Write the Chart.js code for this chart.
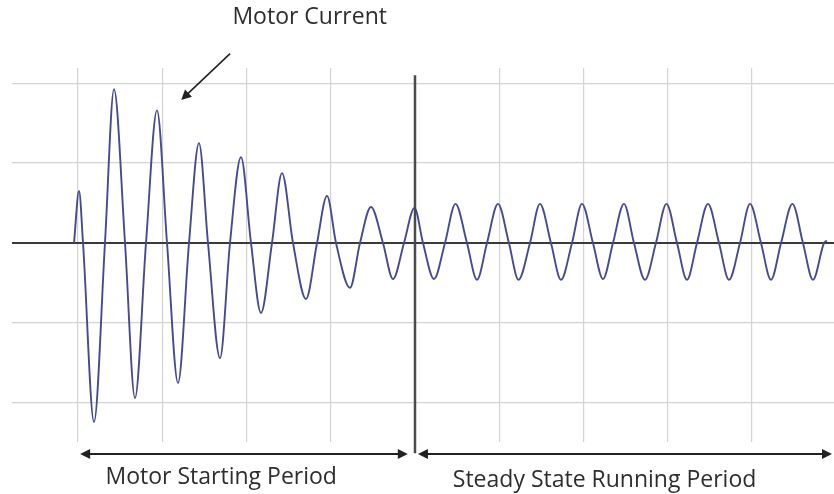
<!DOCTYPE html>
<html>
<head>
<meta charset="utf-8">
<script src="https://cdn.jsdelivr.net/npm/chart.js@4/dist/chart.umd.min.js"></script>
<style>
  html, body { margin: 0; padding: 0; background: #fff; }
  #wrap { width: 834px; height: 494px; }
</style>
</head>
<body>
<div id="wrap"><canvas id="motorChart"></canvas></div>
<script>
// time in mains cycles, current in grid units
const currentX = [
  -0.095, 0.024, 0.119, 0.38, 0.64, 0.855, 1.116, 1.353, 1.614, 1.875,
  2.113, 2.374, 2.635, 2.872, 3.086, 3.371, 3.608, 3.869, 4.107, 4.344,
  4.605, 4.843, 5.104, 5.412, 5.674, 5.911, 6.125, 6.457, 6.694, 6.955,
  7.24, 7.478, 7.739, 7.988, 8.19, 8.451, 8.712, 8.961, 9.234, 9.472,
  9.709, 9.97, 10.23, 10.457, 10.73, 10.967, 11.228, 11.466, 11.727, 11.964,
  12.225, 12.463, 12.7, 12.961, 13.199, 13.46, 13.72, 13.97, 14.22, 14.457,
  14.694, 14.955, 15.217, 15.454, 15.715, 15.953, 16.214, 16.451, 16.69, 16.96,
  17.21, 17.448, 17.71, 17.78
];
const currentY = [
  0, 0.65, 0, -2.24, 0, 1.925, 0, -1.94, 0, 1.66,
  0, -1.75, 0, 1.25, 0, -1.44, 0, 1.075, 0, -0.875,
  0, 0.875, 0, -0.7, 0, 0.59, 0, -0.56, 0, 0.45,
  0, -0.45, 0, 0.44, 0, -0.45, 0, 0.49, 0, -0.46,
  0, 0.49, 0, -0.46, 0, 0.49, 0, -0.46, 0, 0.49,
  0, -0.45, 0, 0.49, 0, -0.46, 0, 0.49, 0, -0.46,
  0, 0.49, 0, -0.46, 0, 0.49, 0, -0.46, 0, 0.49,
  0, -0.46, 0, 0.03
];

const xTicks = [0, 2, 4, 6, 8, 10, 12, 14, 16];
const yTicks = [-2, -1, 0, 1, 2];
const switchOver = 8;

const startLabel = "Motor Starting Period";
const steadyLabel = "Steady State Running Period";
const currentLabel = "Motor Current";

const gridColor = "#d3d3d3";
const axisColor = "#3a3a3a";
const lineColor = "#474a92";
const textFont = "23px 'Open Sans', Lato, sans-serif";

function arrowHead(ctx, x, y, dx, dy) {
  const len = Math.hypot(dx, dy);
  const ux = dx / len, uy = dy / len;
  const size = 10, half = 5;
  ctx.beginPath();
  ctx.moveTo(x, y);
  ctx.lineTo(x - ux * size - uy * half, y - uy * size + ux * half);
  ctx.lineTo(x - ux * size + uy * half, y - uy * size - ux * half);
  ctx.closePath();
  ctx.fill();
}

function spanArrow(ctx, x1, x2, y) {
  ctx.beginPath();
  ctx.moveTo(x1 + 6, y);
  ctx.lineTo(x2 - 6, y);
  ctx.stroke();
  arrowHead(ctx, x1, y, -1, 0);
  arrowHead(ctx, x2, y, 1, 0);
}

const annotations = {
  id: "annotations",
  afterDraw(chart) {
    const { ctx, scales: { x, y } } = chart;
    ctx.save();

    // vertical divider between the two periods
    const xs = x.getPixelForValue(switchOver);
    ctx.strokeStyle = "#4a4a4a";
    ctx.lineWidth = 2.5;
    ctx.beginPath();
    ctx.moveTo(xs, y.getPixelForValue(2.1));
    ctx.lineTo(xs, y.getPixelForValue(-2.63));
    ctx.stroke();

    // period arrows
    const ya = y.getPixelForValue(-2.64);
    ctx.strokeStyle = "#222";
    ctx.fillStyle = "#222";
    ctx.lineWidth = 2;
    spanArrow(ctx, x.getPixelForValue(0.05), x.getPixelForValue(7.83), ya);
    spanArrow(ctx, x.getPixelForValue(8.07), x.getPixelForValue(17.9), ya);

    // labels
    ctx.fillStyle = "#2e2e2e";
    ctx.font = textFont;
    ctx.textAlign = "center";
    ctx.textBaseline = "middle";
    ctx.fillText(startLabel, x.getPixelForValue(3.4), y.getPixelForValue(-2.93));
    ctx.fillText(steadyLabel, x.getPixelForValue(12.5), y.getPixelForValue(-2.97));
    ctx.fillText(currentLabel, x.getPixelForValue(5.5), y.getPixelForValue(2.82));

    // pointer to the waveform
    const px1 = x.getPixelForValue(3.61), py1 = y.getPixelForValue(2.37);
    const px2 = x.getPixelForValue(2.45), py2 = y.getPixelForValue(1.79);
    ctx.strokeStyle = "#222";
    ctx.fillStyle = "#222";
    ctx.lineWidth = 1.6;
    ctx.beginPath();
    ctx.moveTo(px1, py1);
    ctx.lineTo(px2 + (px1 - px2) * 0.12, py2 + (py1 - py2) * 0.12);
    ctx.stroke();
    arrowHead(ctx, px2, py2, px2 - px1, py2 - py1);
    ctx.restore();
  }
};

const ctx = document.getElementById("motorChart").getContext("2d");
new Chart(ctx, {
  type: "line",
  data: {
    datasets: [
      {
        label: currentLabel,
        data: currentX.map((v, i) => ({ x: v, y: currentY[i] })),
        borderColor: lineColor,
        borderWidth: 1.9,
        pointRadius: 0,
        fill: false,
        cubicInterpolationMode: "monotone",
      },
    ],
  },
  options: {
    responsive: true,
    maintainAspectRatio: false,
    animation: false,
    layout: { padding: { left: 12, top: 68, right: 0, bottom: 52 } },
    plugins: { legend: { display: false }, tooltip: { enabled: false } },
    scales: {
      x: {
        type: "linear",
        min: -1.567,
        max: 17.947,
        afterBuildTicks: (axis) => { axis.ticks = xTicks.map((v) => ({ value: v })); },
        ticks: { display: false },
        border: { display: false },
        grid: {
          drawTicks: false,
          color: (c) => (c.tick && c.tick.value === switchOver ? "rgba(0,0,0,0)" : gridColor),
          lineWidth: 1.2,
        },
      },
      y: {
        min: -2.49,
        max: 2.19,
        afterBuildTicks: (axis) => { axis.ticks = yTicks.map((v) => ({ value: v })); },
        ticks: { display: false },
        border: { display: false },
        grid: {
          drawTicks: false,
          color: (c) => (c.tick && c.tick.value === 0 ? axisColor : gridColor),
          lineWidth: (c) => (c.tick && c.tick.value === 0 ? 2 : 1.2),
        },
      },
    },
  },
  plugins: [annotations],
});
</script>
</body>
</html>
